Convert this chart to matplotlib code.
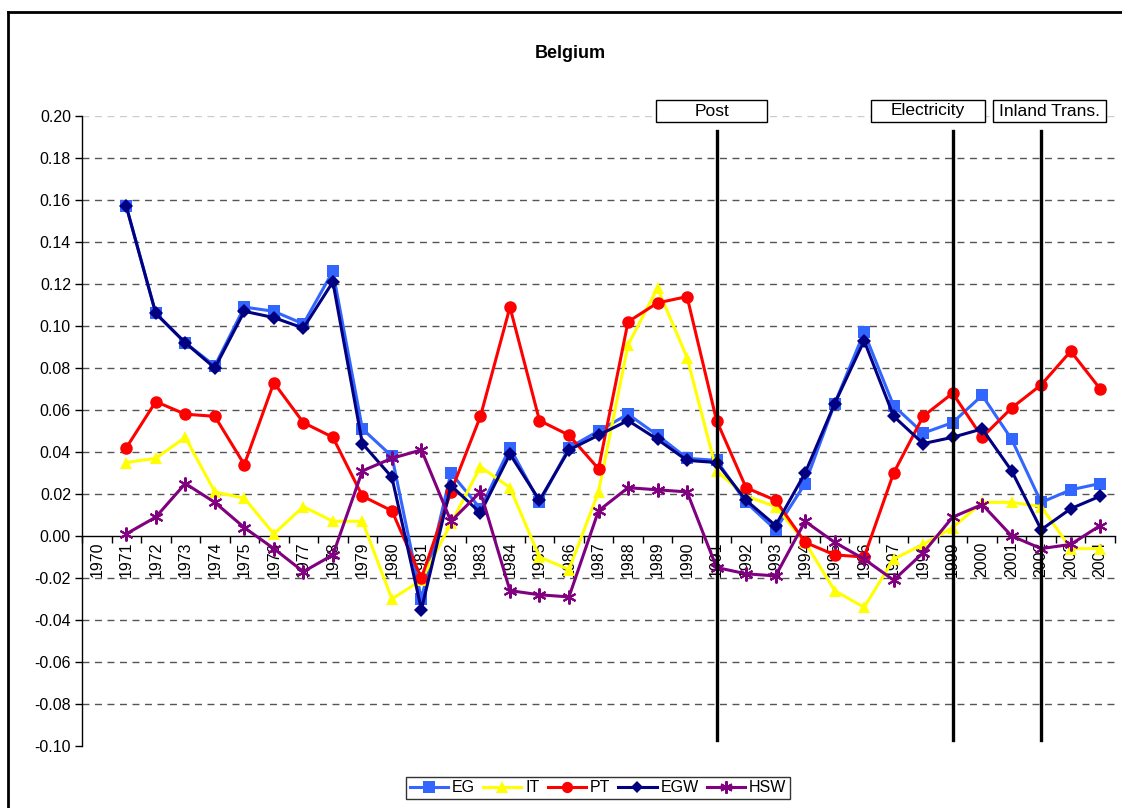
import matplotlib
matplotlib.use("Agg")
import matplotlib.pyplot as plt
from matplotlib.lines import Line2D
from matplotlib.patches import Rectangle

plt.rcParams['font.family'] = ['Liberation Sans', 'DejaVu Sans']

years = list(range(1970, 2005))
yrs = years[1:]  # data from 1971

EG = [0.157, 0.106, 0.092, 0.081, 0.109, 0.107, 0.101, 0.126, 0.051, 0.038,
      -0.030, 0.030, 0.013, 0.042, 0.016, 0.042, 0.050, 0.058, 0.048, 0.037,
      0.036, 0.016, 0.003, 0.025, 0.063, 0.097, 0.062, 0.049, 0.054, 0.067,
      0.046, 0.016, 0.022, 0.025]
IT = [0.035, 0.037, 0.047, 0.021, 0.018, 0.001, 0.014, 0.007, 0.007, -0.030,
      -0.021, 0.006, 0.033, 0.023, -0.010, -0.016, 0.021, 0.091, 0.118, 0.085,
      0.031, 0.019, 0.014, -0.003, -0.026, -0.034, -0.011, -0.004, 0.004, 0.016,
      0.016, 0.014, -0.006, -0.006]
PT = [0.042, 0.064, 0.058, 0.057, 0.034, 0.073, 0.054, 0.047, 0.019, 0.012,
      -0.020, 0.021, 0.057, 0.109, 0.055, 0.048, 0.032, 0.102, 0.111, 0.114,
      0.055, 0.023, 0.017, -0.003, -0.009, -0.010, 0.030, 0.057, 0.068, 0.047,
      0.061, 0.072, 0.088, 0.070]
EGW = [0.157, 0.106, 0.092, 0.080, 0.107, 0.104, 0.099, 0.121, 0.044, 0.028,
       -0.035, 0.024, 0.011, 0.039, 0.017, 0.041, 0.048, 0.055, 0.046, 0.036,
       0.035, 0.017, 0.005, 0.030, 0.063, 0.093, 0.057, 0.044, 0.047, 0.051,
       0.031, 0.003, 0.013, 0.019]
HSW = [0.001, 0.009, 0.025, 0.016, 0.004, -0.006, -0.017, -0.009, 0.031, 0.037,
       0.041, 0.007, 0.021, -0.026, -0.028, -0.029, 0.012, 0.023, 0.022, 0.021,
       -0.015, -0.018, -0.019, 0.007, -0.003, -0.011, -0.021, -0.008, 0.009, 0.015,
       0.000, -0.006, -0.004, 0.005]

events = ['Post', 'Electricity', 'Inland Trans.']
event_years = [1991, 1999, 2002]

series = [
    ('EG', EG, '#3366FF', 's', 9),
    ('IT', IT, '#FFFF00', '^', 9),
    ('PT', PT, '#FF0000', 'o', 9),
    ('EGW', EGW, '#000080', 'D', 7),
    ('HSW', HSW, '#800080', (6, 2, 0), 10),
]

W, H = 1122, 808
fig = plt.figure(figsize=(W / 100, H / 100), dpi=100)
ax = fig.add_axes([82 / W, 1 - 746 / H, (1115 - 82) / W, (746 - 116) / H])

xpos = {y: i for i, y in enumerate(years)}
xs = [xpos[y] for y in yrs]

for name, vals, col, mk, ms in series:
    kw = dict(markeredgewidth=1.5) if name == 'HSW' else dict(markeredgewidth=0)
    ax.plot(xs, vals, color=col, lw=2.2, marker=mk, markersize=ms,
            markerfacecolor=col, markeredgecolor=col, label=name, zorder=3, **kw)

ax.set_xlim(-0.5, len(years) - 0.5)
ax.set_ylim(-0.10, 0.20)
ax.set_yticks([round(-0.10 + 0.02 * i, 2) for i in range(16)])
ax.yaxis.set_major_formatter(matplotlib.ticker.FormatStrFormatter('%.2f'))
ax.set_xticks(range(len(years)))
ax.set_xticklabels([str(y) for y in years])
ax.set_xticks([i - 0.5 for i in range(len(years) + 1)], minor=True)
ax.tick_params(axis='x', which='major', length=0, pad=4, labelsize=11.5, labelrotation=90)
ax.tick_params(axis='x', which='minor', length=5, width=1, direction='out')
ax.tick_params(axis='y', length=5, width=1, direction='out', labelsize=11.5, pad=3)

for s in ['top', 'right']:
    ax.spines[s].set_visible(False)
ax.spines['bottom'].set_position(('data', 0))
ax.spines['left'].set_linewidth(1)
ax.spines['bottom'].set_linewidth(1)

for v in ax.get_yticks():
    if abs(v) < 1e-9 or v < -0.099:
        continue
    c = '#cccccc' if v > 0.199 else '#555555'
    ax.axhline(v, color=c, lw=1, ls=(0, (5, 4)), zorder=1)

# event lines and labels
box_px = [(656, 767), (871, 985), (993, 1106)]
for (name, yr), (x0, x1) in zip(zip(events, event_years), box_px):
    xi = xpos[yr]
    ax.plot([xi, xi], [-0.097, 0.193], color='black', lw=2.4, zorder=4, clip_on=False)
    fx0, fx1 = x0 / W, x1 / W
    fy0, fy1 = 1 - 122 / H, 1 - 100 / H
    fig.patches.append(Rectangle((fx0, fy0), fx1 - fx0, fy1 - fy0, transform=fig.transFigure,
                                 facecolor='white', edgecolor='black', lw=1))
    fig.text((fx0 + fx1) / 2, (fy0 + fy1) / 2, name, ha='center', va='center', fontsize=12.5)

fig.text(570 / W, 1 - 53 / H, 'Belgium', ha='center', va='center', fontsize=13, fontweight='bold')

leg = fig.legend(loc='center', bbox_to_anchor=(598 / W, 1 - 788 / H), ncol=5, frameon=True,
                 fancybox=False, edgecolor='black', fontsize=11.5, handlelength=2.4,
                 handletextpad=0.25, columnspacing=0.5, borderpad=0.25, markerscale=0.9)
leg.get_frame().set_linewidth(1)

# figure frame
fig.add_artist(Line2D([8 / W, 1], [1 - 12 / H, 1 - 12 / H], transform=fig.transFigure, color='black', lw=2))
fig.add_artist(Line2D([8 / W, 8 / W], [0, 1 - 12 / H], transform=fig.transFigure, color='black', lw=2))

fig.savefig('out.png', dpi=100)
